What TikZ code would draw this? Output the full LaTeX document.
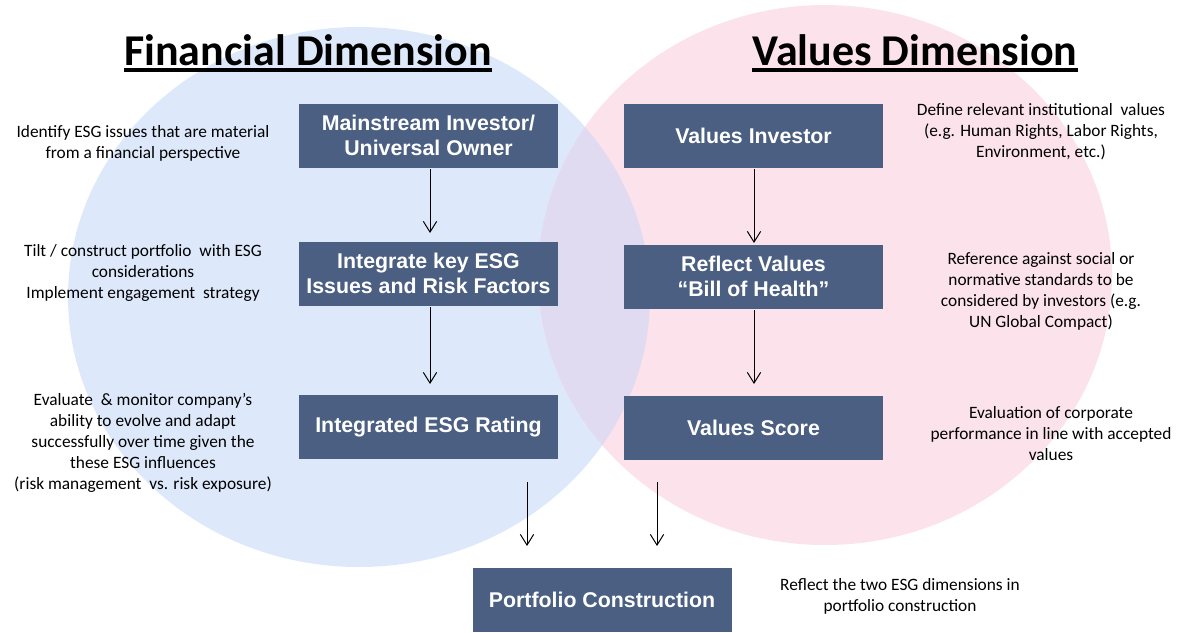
\documentclass[tikz,border=0pt]{standalone}
\usepackage{fontspec}
\setmainfont{Carlito}
\newfontfamily\boxfont{Liberation Sans}
\usepackage{tikz}
\usetikzlibrary{shapes}
\usetikzlibrary{shapes.geometric}
\usetikzlibrary{arrows.meta}
\pgfdeclarelayer{edgelayer}
\pgfdeclarelayer{nodelayer}
\pgfsetlayers{edgelayer,nodelayer,main}
\tikzstyle{none}=[inner sep=0pt]
\tikzstyle{box}=[rectangle, fill=boxblue, text=white, minimum width=194.25pt, minimum height=48pt, align=center, font=\boxfont\bfseries\fontsize{16}{19}\selectfont]
\tikzstyle{note}=[inner sep=0pt, align=center, font=\fontsize{13}{15.75}\selectfont]
\tikzstyle{title}=[inner sep=0pt, font=\bfseries\fontsize{33}{40}\selectfont]
\definecolor{boxblue}{RGB}{74,95,130}
\definecolor{finblue}{RGB}{221,233,251}
\definecolor{valpink}{RGB}{252,227,235}
\definecolor{overlap}{RGB}{224,219,241}

\begin{document}
\begin{tikzpicture}[x=0.75pt, y=-0.75pt, >={Straight Barb[length=8pt,width=10pt]}]
	\useasboundingbox (0, 0) rectangle (1180, 632);
	\begin{pgfonlayer}{edgelayer}
		% the two dimensions
		\fill [finblue] (359, 297) ellipse [x radius=291, y radius=270];
		\fill [valpink] (825, 275) ellipse [x radius=287, y radius=270];
		\begin{scope}
			\clip (359, 297) ellipse [x radius=291, y radius=270];
			\fill [overlap] (825, 275) ellipse [x radius=287, y radius=270];
		\end{scope}
	\end{pgfonlayer}
	\begin{pgfonlayer}{nodelayer}
		\node [style=title, anchor=base] (fin) at (308, 65) {Financial Dimension};
		\node [style=title, anchor=base] (val) at (915, 65) {Values Dimension};
		\node [style=box] (0) at (428.5, 135.5) {Mainstream Investor/\\Universal Owner};
		\node [style=box] (1) at (428.5, 273.5) {Integrate key ESG\\Issues and Risk Factors};
		\node [style=box] (2) at (428.5, 427) {Integrated ESG Rating};
		\node [style=box] (3) at (753.5, 135.5) {Values Investor};
		\node [style=box] (4) at (753.5, 276.5) {Reflect Values\\“Bill of Health”};
		\node [style=box] (5) at (753.5, 427.5) {Values Score};
		\node [style=box] (6) at (602, 600) {Portfolio Construction};
		\node [style=note] (7) at (143, 143) {Identify ESG issues that are material\\from a financial perspective};
		\node [style=note] (8) at (143, 273) {Tilt / construct portfolio \ with ESG\\considerations\\Implement engagement \ strategy};
		\node [style=note] (9) at (143, 443) {Evaluate \ \& monitor company’s\\ability to evolve and adapt\\successfully over time given the\\these ESG influences\\(risk management \ vs. risk exposure)};
		\node [style=note] (10) at (1041, 132) {Define relevant institutional \ values\\(e.g. Human Rights, Labor Rights,\\Environment, etc.)};
		\node [style=note] (11) at (1041, 291) {Reference against social or\\normative standards to be\\considered by investors (e.g.\\UN Global Compact)};
		\node [style=note] (12) at (1051, 434) {Evaluation of corporate\\performance in line with accepted\\values};
		\node [style=note] (13) at (900, 596) {Reflect the two ESG dimensions in\\portfolio construction};
		\node [style=none] (14) at (430, 169) {};
		\node [style=none] (15) at (430, 233) {};
		\node [style=none] (16) at (430, 307) {};
		\node [style=none] (17) at (430, 384) {};
		\node [style=none] (18) at (754, 169) {};
		\node [style=none] (19) at (754, 243) {};
		\node [style=none] (20) at (754, 310) {};
		\node [style=none] (21) at (754, 384) {};
		\node [style=none] (22) at (527, 482) {};
		\node [style=none] (23) at (527, 546) {};
		\node [style=none] (24) at (657, 482) {};
		\node [style=none] (25) at (657, 546) {};
	\end{pgfonlayer}
	\begin{pgfonlayer}{edgelayer}
		\draw [line width=2.6pt] ([yshift=-3.75pt]fin.base west) to ([yshift=-3.75pt]fin.base east);
		\draw [line width=2.6pt] ([yshift=-3.75pt]val.base west) to ([yshift=-3.75pt]val.base east);
		\draw [->, line width=0.75pt](14.center) to (15.center);
		\draw [->, line width=0.75pt](16.center) to (17.center);
		\draw [->, line width=0.75pt](18.center) to (19.center);
		\draw [->, line width=0.75pt](20.center) to (21.center);
		\draw [->, line width=0.75pt](22.center) to (23.center);
		\draw [->, line width=0.75pt](24.center) to (25.center);
	\end{pgfonlayer}
\end{tikzpicture}
\end{document}
